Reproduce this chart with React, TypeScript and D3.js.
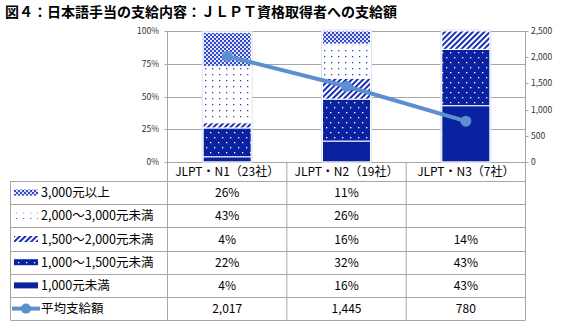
import React from "react";
import * as d3 from "d3";

const categories = ["JLPT・N1（23社）", "JLPT・N2（19社）", "JLPT・N3（7社）"];
const seriesNames = ["3,000元以上", "2,000～3,000元未満", "1,500～2,000元未満", "1,000～1,500元未満", "1,000元未満"];
const v3000: (number | null)[] = [26, 11, null];
const v2000: (number | null)[] = [43, 26, null];
const v1500: (number | null)[] = [4, 16, 14];
const v1000: (number | null)[] = [22, 32, 43];
const vLt1000: (number | null)[] = [4, 16, 43];
const avgName = "平均支給額";
const avgValues = [2017, 1445, 780];
const leftTicks = [0, 25, 50, 75, 100];
const rightTicks = [0, 500, 1000, 1500, 2000, 2500];
const title = "図４：日本語手当の支給内容：ＪＬＰＴ資格取得者への支給額";

const W = 562, H = 325;
const plotL = 167.5, plotR = 525.5, plotT = 31, plotB = 162;
const tableL = 10.5, rowTop = 181, rowH = 23.2;
const DARK = "#0a22a0";
const LINE = "#5b8fd0";
const GRID = "#a6a6a6";
const FONT = "'Noto Sans CJK JP', 'Noto Sans', sans-serif";

// series from top (table order) with pattern ids
const tableSeries = [
  { name: seriesNames[0], values: v3000, fill: "url(#pChecker)" },
  { name: seriesNames[1], values: v2000, fill: "url(#pDots)" },
  { name: seriesNames[2], values: v1500, fill: "url(#pStripe)" },
  { name: seriesNames[3], values: v1000, fill: "url(#pDarkDots)" },
  { name: seriesNames[4], values: vLt1000, fill: DARK },
];

export default function App() {
  const x = d3.scaleBand<string>().domain(categories).range([plotL, plotR]);
  const yL = d3.scaleLinear().domain([0, 100]).range([plotB, plotT]);
  const yR = d3.scaleLinear().domain([0, 2500]).range([plotB, plotT]);
  const barW = 48;
  const stackOrder = [...tableSeries].reverse();

  const bars: JSX.Element[] = [];
  categories.forEach((c, ci) => {
    let acc = 0;
    const cx = (x(c) as number) + x.bandwidth() / 2;
    stackOrder.forEach((s, si) => {
      const v = s.values[ci];
      if (v == null || v === 0) return;
      const y0 = Math.min(acc, 100);
      const y1 = Math.min(acc + v, 100);
      acc += v;
      bars.push(
        <rect key={`b${ci}-${si}`} x={cx - barW / 2} y={yL(y1)} width={barW} height={yL(y0) - yL(y1)}
          fill={s.fill} stroke="#ffffff" strokeWidth={1} />
      );
    });
    bars.push(
      <rect key={`o${ci}`} x={cx - barW / 2 - 1} y={yL(Math.min(acc, 100)) - 1} width={barW + 2}
        height={yL(0) - yL(Math.min(acc, 100)) + 1} fill="none" stroke="#dfe3f3" strokeWidth={1} />
    );
  });

  const line = d3.line<number>()
    .x((_, i) => (x(categories[i]) as number) + x.bandwidth() / 2)
    .y((d) => yR(d));

  const rows = [...tableSeries.map((s) => ({ name: s.name, kind: "bar", fill: s.fill, cells: s.values.map((v) => (v == null ? "" : `${v}%`)) })),
    { name: avgName, kind: "line", fill: LINE, cells: avgValues.map((v) => d3.format(",")(v)) }];
  const tableB = rowTop + rowH * rows.length;

  return (
    <div style={{ position: "absolute", left: 0, top: 0 }}>
      <svg width={W} height={H} style={{ display: "block", background: "#fff" }} fontFamily={FONT}>
        <defs>
          <pattern id="pChecker" width={4} height={4} patternUnits="userSpaceOnUse">
            <rect width={4} height={4} fill="#dfe4fb" />
            <rect width={2} height={2} fill="#3348c8" />
            <rect x={2} y={2} width={2} height={2} fill="#3348c8" />
          </pattern>
          <pattern id="pDots" width={7} height={6} patternUnits="userSpaceOnUse">
            <rect width={7} height={6} fill="#fff" />
            <rect x={2} y={2} width={1.3} height={1.3} fill="#2a44c0" />
          </pattern>
          <pattern id="pStripe" width={4} height={4} patternUnits="userSpaceOnUse" patternTransform="rotate(45)">
            <rect width={4} height={4} fill="#fff" />
            <rect width={2} height={4} fill="#1a30b0" />
          </pattern>
          <pattern id="pDarkDots" width={8} height={10} patternUnits="userSpaceOnUse">
            <rect width={8} height={10} fill={DARK} />
            <rect x={2} y={2} width={1.3} height={1.3} fill="#fff" />
            <rect x={6} y={7} width={1.3} height={1.3} fill="#fff" />
          </pattern>
        </defs>

        <text x={5} y={17} fontSize={14} fontWeight="bold" fill="#000">{title}</text>

        {/* gridlines */}
        {leftTicks.map((t) => (
          <line key={`g${t}`} x1={plotL} x2={plotR} y1={Math.round(yL(t)) + 0.5} y2={Math.round(yL(t)) + 0.5} stroke={GRID} strokeWidth={1} />
        ))}
        {/* left axis */}
        <line x1={plotL} x2={plotL} y1={plotT} y2={plotB} stroke={GRID} />
        {leftTicks.map((t) => (
          <g key={`l${t}`}>
            <line x1={plotL - 3} x2={plotL} y1={Math.round(yL(t)) + 0.5} y2={Math.round(yL(t)) + 0.5} stroke={GRID} />
            <text x={159} y={yL(t) + 3} fontSize={8.5} textAnchor="end" fill="#333">{`${t}%`}</text>
          </g>
        ))}
        {/* right axis */}
        <line x1={plotR} x2={plotR} y1={plotT} y2={plotB} stroke={GRID} />
        {rightTicks.map((t) => (
          <g key={`r${t}`}>
            <line x1={plotR} x2={plotR + 3} y1={Math.round(yR(t)) + 0.5} y2={Math.round(yR(t)) + 0.5} stroke={GRID} />
            <text x={531} y={yR(t) + 3} fontSize={8.5} textAnchor="start" fill="#333">{d3.format(",")(t)}</text>
          </g>
        ))}

        {bars}

        <path d={line(avgValues) || ""} fill="none" stroke={LINE} strokeWidth={4} />
        {avgValues.map((v, i) => (
          <circle key={`m${i}`} cx={(x(categories[i]) as number) + x.bandwidth() / 2} cy={yR(v)} r={5.5} fill={LINE} />
        ))}

        {/* table */}
        {categories.map((c) => (
          <text key={`h${c}`} x={(x(c) as number) + x.bandwidth() / 2} y={176} fontSize={12} textAnchor="middle" fill="#000">{c}</text>
        ))}
        {/* vertical lines */}
        {[...categories.map((c) => x(c) as number), plotR].map((vx, i) => (
          <line key={`v${i}`} x1={vx} x2={vx} y1={plotB} y2={tableB} stroke={GRID} />
        ))}
        <line x1={tableL} x2={tableL} y1={rowTop} y2={tableB} stroke={GRID} />
        {d3.range(rows.length + 1).map((i) => (
          <line key={`hl${i}`} x1={tableL} x2={plotR} y1={Math.round(rowTop + i * rowH) + 0.5} y2={Math.round(rowTop + i * rowH) + 0.5} stroke={GRID} />
        ))}
        {rows.map((r, ri) => {
          const cy = rowTop + ri * rowH + rowH / 2;
          return (
            <g key={`row${ri}`}>
              {r.kind === "bar" ? (
                <rect x={14} y={cy - 3} width={24} height={6} fill={r.fill} />
              ) : (
                <g>
                  <line x1={12} x2={40} y1={cy} y2={cy} stroke={LINE} strokeWidth={4} />
                  <circle cx={26} cy={cy} r={5} fill={LINE} />
                </g>
              )}
              <text x={41} y={cy + 4.5} fontSize={12.5} fill="#000">{r.name}</text>
              {r.cells.map((cell, ci) => (
                <text key={`c${ci}`} x={(x(categories[ci]) as number) + x.bandwidth() / 2} y={cy + 4.5} fontSize={12} textAnchor="middle" fill="#000">{cell}</text>
              ))}
            </g>
          );
        })}
      </svg>
    </div>
  );
}
